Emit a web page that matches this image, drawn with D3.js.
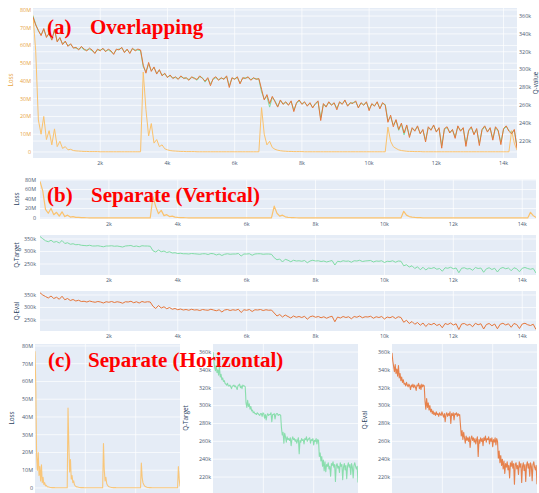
<!DOCTYPE html>
<html><head><meta charset="utf-8">
<script src="https://cdn.jsdelivr.net/npm/d3@7/dist/d3.min.js"></script>
<style>html,body{margin:0;padding:0;background:#fff;overflow:hidden}</style>
</head><body><div id="chart"></div>
<script>
// ---------- DATA ----------
const steps = [0,80,160,240,320,400,480,560,640,720,800,880,960,1040,1120,1200,1280,1360,1440,1520,
1600,1680,1760,1840,1920,2000,2080,2160,2240,2320,2400,2480,2560,2640,2720,2800,2880,2960,3040,3120,
3200,3280,3360,3440,3520,3600,3680,3760,3840,3920,4000,4080,4160,4240,4320,4400,4480,4560,4640,4720,
4800,4880,4960,5040,5120,5200,5280,5360,5440,5520,5600,5680,5760,5840,5920,6000,6080,6160,6240,6320,
6400,6480,6560,6640,6720,6800,6880,6960,7040,7120,7200,7280,7360,7440,7520,7600,7680,7760,7840,7920,
8000,8080,8160,8240,8320,8400,8480,8560,8640,8720,8800,8880,8960,9040,9120,9200,9280,9360,9440,9520,
9600,9680,9760,9840,9920,10000,10080,10160,10240,10320,10400,10480,10560,10640,10720,10800,10880,10960,11040,11120,
11200,11280,11360,11440,11520,11600,11680,11760,11840,11920,12000,12080,12160,12240,12320,12400,12480,12560,12640,12720,
12800,12880,12960,13040,13120,13200,13280,13360,13440,13520,13600,13680,13760,13840,13920,14000,14080,14160,14240,14320,
14400];

// Loss (millions)
const lossM = [77,57,18,10,20,7,12,4,13,3,6,2,3,1.2,1.5,0.8,0.6,0.5,0.4,0.3,
0.3,0.2,0.2,0.2,0.2,0.1,0.1,0.1,0.1,0.1,0.1,0.1,0.1,0.1,0.1,0.1,0.1,0.1,0.1,0.1,
0.1,45,24,9,16,5,7,3,4,1.8,1.2,0.8,0.6,0.5,0.4,0.3,0.3,0.2,0.2,0.2,
0.2,0.1,0.1,0.1,0.1,0.1,0.1,0.1,0.1,0.1,0.1,0.1,0.1,0.1,0.1,0.1,0.1,0.1,0.1,0.1,
0.1,0.1,0.1,0.1,0.1,25,10,4,6,2.5,1.5,1,0.7,0.5,0.4,0.3,0.3,0.2,0.2,0.2,
0.2,0.1,0.1,0.1,0.1,0.1,0.1,0.1,0.1,0.1,0.1,0.1,0.1,0.1,0.1,0.1,0.1,0.1,0.1,0.1,
0.1,0.1,0.1,0.1,0.1,0.1,0.1,0.1,0.1,0.1,0.1,0.1,14,6,3,2,1.2,0.8,0.6,0.4,
0.3,0.3,0.2,0.2,0.2,0.1,0.1,0.1,0.1,0.1,0.1,0.1,0.1,0.1,0.1,0.1,0.1,0.1,0.1,0.1,
0.1,0.1,0.1,0.1,0.1,0.1,0.1,0.1,0.1,0.1,0.1,0.1,0.1,0.1,0.1,0.1,0.1,0.1,12,5,
1];

// Q-Eval (thousands)
const qEvalK = [359,350,344,338,346,336,341,333,345,331,336,328,332,326,329,324,325,322,326,323,
321,324,322,318,323,321,324,320,323,321,317,323,322,325,319,323,318,324,321,323,
322,305,296,308,298,303,295,300,293,296,291,294,290,292,289,293,290,291,288,292,
290,289,293,290,287,291,282,290,292,288,291,289,293,280,291,289,292,284,291,290,
292,288,291,289,290,278,266,272,262,270,264,258,266,261,264,260,265,253,263,266,
261,264,259,263,257,262,265,243,262,258,264,260,263,255,264,261,266,259,263,262,
265,257,263,260,264,254,262,259,264,256,263,260,241,249,236,244,233,240,229,238,
224,235,231,237,228,233,219,236,232,238,230,235,212,234,236,229,233,223,237,231,
235,214,232,236,227,234,215,233,237,230,235,221,236,232,216,234,237,231,228,233,
212];

// Q-Target (thousands)
const qTargetK = [360,351,343,339,345,337,340,334,344,332,335,329,331,327,328,325,324,323,325,322,
322,323,321,319,322,322,323,321,322,320,318,322,323,324,320,322,319,323,322,322,
321,303,298,306,299,302,296,299,294,295,292,293,291,291,290,292,291,290,289,291,
291,288,292,291,286,290,284,289,291,289,290,290,292,282,290,290,291,285,290,291,
291,289,290,290,289,275,267,270,258,269,265,259,265,262,263,261,264,255,262,265,
262,263,260,262,258,261,264,246,261,259,263,261,262,257,263,262,265,260,262,263,
264,258,262,261,263,256,261,260,263,257,262,261,243,247,238,243,232,239,227,237,
226,234,232,236,229,232,221,235,233,237,231,234,215,233,235,230,232,225,236,232,
234,217,231,235,228,233,218,232,236,231,234,223,235,231,219,233,236,232,229,232,
214];

const xTicksWide = [2000,4000,6000,8000,10000,12000,14000];
const xTicksNarrow = [5000,10000];
const lossTicksFine = [0,10,20,30,40,50,60,70,80];
const lossTicksCoarse = [0,20,40,60,80];
const qTicksFine = [220,240,260,280,300,320,340,360];
const qTicksCoarse = [250,300,350];

const panelTitles = [
  {tag:"(a)", text:"Overlapping"},
  {tag:"(b)", text:"Separate (Vertical)"},
  {tag:"(c)", text:"Separate (Horizontal)"}
];

// ---------- STYLE ----------
const W = 539, H = 493;
const C = {bg:"#E5ECF6", grid:"#ffffff", tick:"#4a5a72", title:"#2a3f5f",
  loss:"#FBC26C", lossAxis:"#E8A43F", qEval:"#E5763A", qTarget:"#80DCA5", red:"#FF0000"};
const FONT = "'Open Sans', 'DejaVu Sans', sans-serif";
const TF = 5.4, AF = 6.3;

const svg = d3.select("#chart").append("svg").attr("width", W).attr("height", H)
  .style("font-family", FONT);

const fmtM = v => v === 0 ? "0" : v + "M";
const fmtK = v => v + "k";
const fmtX = v => (v/1000) + "k";

let clipId = 0;
function panel(o) {
  const g = svg.append("g");
  const x = d3.scaleLinear().domain([steps[0], steps[steps.length-1]]).range([o.x0, o.x1]);
  g.append("rect").attr("x", o.x0).attr("y", o.y0).attr("width", o.x1-o.x0).attr("height", o.y1-o.y0)
    .attr("fill", C.bg);
  const grid = g.append("g").attr("stroke", C.grid).attr("stroke-width", 0.7);
  grid.selectAll("line.v").data(o.xTicks).join("line")
    .attr("x1", d => x(d)).attr("x2", d => x(d)).attr("y1", o.y0).attr("y2", o.y1);
  o.axes.forEach(a => {
    grid.append("g").selectAll("line").data(a.ticks).join("line")
      .attr("x1", o.x0).attr("x2", o.x1).attr("y1", d => a.scale(d)).attr("y2", d => a.scale(d));
  });
  const cid = "clip" + (clipId++);
  g.append("clipPath").attr("id", cid).append("rect")
    .attr("x", o.x0).attr("y", o.y0).attr("width", o.x1-o.x0).attr("height", o.y1-o.y0);
  const lg = g.append("g").attr("clip-path", `url(#${cid})`);
  o.series.forEach(s => {
    const line = d3.line().x((d,i) => x(steps[i])).y(d => s.scale(d));
    lg.append("path").datum(s.values).attr("d", line).attr("fill", "none")
      .attr("stroke", s.color).attr("stroke-width", s.width || 1).attr("stroke-opacity", s.opacity || 1)
      .attr("stroke-linejoin", "round");
  });
  if (o.xLabels !== false) {
    g.append("g").selectAll("text").data(o.xTicks).join("text")
      .attr("x", d => x(d)).attr("y", o.y1 + 5.5).attr("text-anchor", "middle").attr("dy", "0.35em")
      .attr("font-size", TF).attr("fill", C.tick).text(fmtX);
  }
  o.axes.forEach(a => {
    const right = a.side === "right";
    g.append("g").selectAll("text").data(a.ticks).join("text")
      .attr("x", right ? o.x1 + (a.pad||2) : o.x0 - (a.pad||2))
      .attr("y", d => a.scale(d)).attr("dy", "0.35em")
      .attr("text-anchor", right ? "start" : "end")
      .attr("font-size", TF).attr("fill", a.color || C.tick).text(a.fmt);
    if (a.title) {
      g.append("text").attr("transform", `translate(${a.tx},${a.ty}) rotate(-90)`)
        .attr("text-anchor", "middle").attr("dy", "0.35em")
        .attr("font-size", AF).attr("fill", a.titleColor || C.title).text(a.title);
    }
  });
  return g;
}

// ---------- PANEL (a) ----------
{
  const y0 = 8, y1 = 158;
  const yL = d3.scaleLinear().domain([-3.4, 81.1]).range([y1, y0]);
  const yQ = d3.scaleLinear().domain([201, 369]).range([y1, y0]);
  panel({x0:33, x1:517, y0, y1, xTicks:xTicksWide,
    axes:[
      {scale:yL, ticks:lossTicksFine, fmt:fmtM, side:"left", pad:2, color:C.lossAxis, title:"Loss", tx:11, ty:80, titleColor:C.lossAxis},
      {scale:yQ, ticks:qTicksFine, fmt:fmtK, side:"right", pad:2, title:"Q-value", tx:536, ty:83}
    ],
    series:[
      {values:lossM, scale:yL, color:C.loss, width:1},
      {values:qTargetK, scale:yQ, color:C.qTarget, width:1},
      {values:qEvalK, scale:yQ, color:C.qEval, width:1}
    ]});
}

// ---------- PANEL (b) ----------
{
  const yL = d3.scaleLinear().domain([-2.1, 81]).range([219, 179.5]);
  panel({x0:40, x1:536, y0:179.5, y1:219, xTicks:xTicksWide,
    axes:[{scale:yL, ticks:lossTicksCoarse, fmt:fmtM, side:"left", pad:4, title:"Loss", tx:17, ty:199}],
    series:[{values:lossM, scale:yL, color:C.loss, width:1.2}]});
  const yT = d3.scaleLinear().domain([206, 366]).range([275, 235]);
  panel({x0:40, x1:536, y0:235, y1:275, xTicks:xTicksWide,
    axes:[{scale:yT, ticks:qTicksCoarse, fmt:fmtK, side:"left", pad:4, title:"Q-Target", tx:17, ty:255}],
    series:[{values:qTargetK, scale:yT, color:C.qTarget, width:1}]});
  const yE = d3.scaleLinear().domain([206, 366]).range([331, 291]);
  panel({x0:40, x1:536, y0:291, y1:331, xTicks:xTicksWide,
    axes:[{scale:yE, ticks:qTicksCoarse, fmt:fmtK, side:"left", pad:4, title:"Q-Eval", tx:17, ty:311}],
    series:[{values:qEvalK, scale:yE, color:C.qEval, width:1}]});
}

// ---------- PANEL (c) ----------
{
  const y0 = 344, y1 = 494;
  const yL = d3.scaleLinear().domain([-3.4, 81.1]).range([y1, y0]);
  const yQ = d3.scaleLinear().domain([201, 369]).range([y1, y0]);
  panel({x0:35, x1:180, y0, y1, xTicks:xTicksNarrow, xLabels:false,
    axes:[{scale:yL, ticks:lossTicksFine, fmt:fmtM, side:"left", pad:2, title:"Loss", tx:12, ty:418}],
    series:[{values:lossM, scale:yL, color:C.loss, width:1.1, opacity:0.9}]});
  panel({x0:213, x1:358, y0, y1, xTicks:xTicksNarrow, xLabels:false,
    axes:[{scale:yQ, ticks:qTicksFine, fmt:fmtK, side:"left", pad:2, title:"Q-Target", tx:186, ty:418}],
    series:[{values:qTargetK, scale:yQ, color:C.qTarget, width:1.1, opacity:0.9}]});
  panel({x0:392, x1:537, y0, y1, xTicks:xTicksNarrow, xLabels:false,
    axes:[{scale:yQ, ticks:qTicksFine, fmt:fmtK, side:"left", pad:2, title:"Q-Eval", tx:365, ty:420}],
    series:[{values:qEvalK, scale:yQ, color:C.qEval, width:1.1, opacity:0.9}]});
}

// ---------- PANEL TITLES ----------
const titlePos = [{x:47, x2:90, y:34}, {x:47, x2:91, y:202}, {x:48, x2:88, y:367}];
panelTitles.forEach((t, i) => {
  const p = titlePos[i];
  const tx = svg.append("text").attr("y", p.y).attr("fill", C.red)
    .attr("font-family", "'Liberation Serif','Times New Roman',serif")
    .attr("font-weight", "bold").attr("font-size", 21);
  tx.append("tspan").attr("x", p.x).text(t.tag);
  tx.append("tspan").attr("x", p.x2).text(t.text);
});
</script>
</body></html>
